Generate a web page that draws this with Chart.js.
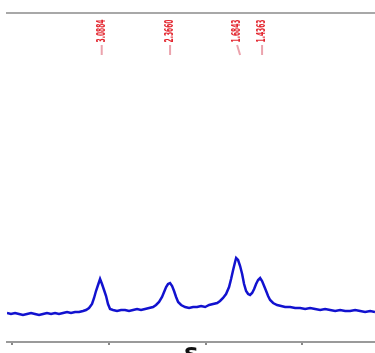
<!DOCTYPE html>
<html>
<head>
<meta charset="utf-8">
<script src="https://cdn.jsdelivr.net/npm/chart.js@4"></script>
<style>
  html, body { margin: 0; padding: 0; background: #fff; }
  #wrap { width: 375px; height: 353px; overflow: hidden; position: relative; }
  canvas { display: block; }
</style>
</head>
<body>
<div id="wrap"><canvas id="spec" width="375" height="376"></canvas></div>
<script>
// chemical shift (ppm)
const shifts = [
  4.050, 4.009, 3.967, 3.926, 3.885, 3.843, 3.802, 3.761, 3.719, 3.678,
  3.637, 3.595, 3.554, 3.513, 3.471, 3.430, 3.389, 3.347, 3.306, 3.265,
  3.234, 3.203, 3.172, 3.151, 3.131, 3.110, 3.089, 3.069, 3.048, 3.027,
  3.007, 2.986, 2.955, 2.914, 2.872, 2.831, 2.790, 2.748, 2.707, 2.666,
  2.624, 2.583, 2.542, 2.511, 2.480, 2.449, 2.428, 2.407, 2.387, 2.366,
  2.345, 2.325, 2.304, 2.283, 2.252, 2.211, 2.170, 2.128, 2.087, 2.046,
  2.004, 1.963, 1.922, 1.880, 1.850, 1.819, 1.788, 1.757, 1.736, 1.715,
  1.695, 1.684, 1.664, 1.643, 1.622, 1.602, 1.581, 1.560, 1.540, 1.519,
  1.498, 1.478, 1.457, 1.436, 1.416, 1.395, 1.374, 1.354, 1.333, 1.302,
  1.261, 1.219, 1.178, 1.126, 1.075, 1.023, 0.971, 0.920, 0.868, 0.816,
  0.765, 0.713, 0.661, 0.610, 0.558, 0.507, 0.455, 0.403, 0.352, 0.300,
  0.250
];

// signal intensity (a.u.)
const intensity = [
  29, 28, 29, 28, 27, 28, 29, 28, 27, 28,
  29, 28, 29, 28, 29, 30, 29, 30, 30, 31,
  32, 34, 38, 44, 51, 57, 63, 58, 52, 46,
  38, 33, 32, 31, 32, 32, 31, 32, 33, 32,
  33, 34, 35, 37, 40, 45, 50, 55, 58, 59,
  56, 51, 45, 40, 37, 35, 34, 35, 35, 36,
  35, 37, 38, 39, 41, 44, 48, 55, 63, 72,
  80, 84, 82, 76, 68, 58, 51, 48, 47, 49,
  53, 58, 62, 64, 61, 56, 51, 46, 42, 39,
  37, 36, 35, 35, 34, 34, 33, 34, 33, 32,
  33, 32, 31, 32, 31, 31, 32, 31, 30, 31,
  30
];

// peak-pick labels
const peakLabels = ['3.0884', '2.3660', '1.6843', '1.4363'];
const labelAt = [3.072, 2.366, 1.674, 1.416];
const peakAt = [3.072, 2.366, 1.643, 1.416];

const axisTicks = [4, 3, 2, 1];

const peakMarks = {
  id: 'peakMarks',
  afterDatasetsDraw(chart) {
    const ctx = chart.ctx;
    const xs = chart.scales.x;
    ctx.save();
    peakLabels.forEach((txt, i) => {
      const lx = xs.getPixelForValue(labelAt[i]);
      const px = xs.getPixelForValue(peakAt[i]);
      // connector tick
      ctx.strokeStyle = '#eba3ad';
      ctx.lineWidth = 2;
      ctx.beginPath();
      ctx.moveTo(lx, 45);
      ctx.lineTo(px, 55);
      ctx.stroke();
      // rotated value, squeezed to the short label length
      ctx.save();
      ctx.translate(lx, 31);
      ctx.rotate(-Math.PI / 2);
      ctx.fillStyle = '#e3262f';
      ctx.font = 'bold 12px "DejaVu Sans", sans-serif';
      ctx.textAlign = 'center';
      ctx.textBaseline = 'middle';
      ctx.fillText(txt, 0, 0, 23);
      ctx.restore();
    });
    ctx.restore();
  }
};

new Chart(document.getElementById('spec'), {
  type: 'line',
  data: {
    datasets: [{
      data: shifts.map((x, i) => ({ x, y: intensity[i] })),
      borderColor: '#1212cf',
      borderWidth: 2.5,
      pointRadius: 0,
      tension: 0,
      fill: false
    }]
  },
  options: {
    responsive: false,
    animation: false,
    layout: { padding: { left: 7, top: 13, right: 0, bottom: 0 } },
    plugins: { legend: { display: false }, tooltip: { enabled: false } },
    scales: {
      x: {
        type: 'linear',
        reverse: true,
        min: 0.25,
        max: 4.05,
        afterBuildTicks: s => { s.ticks = axisTicks.map(v => ({ value: v })); },
        afterFit: s => { s.height = 34; },
        ticks: { display: false },
        grid: { drawOnChartArea: false, drawTicks: true, tickLength: 3, color: '#888', lineWidth: 2 },
        border: { color: '#9a9a9a', width: 2 },
        title: {
          display: true,
          text: 'δ',
          color: '#111',
          font: { family: '"DejaVu Sans", sans-serif', size: 24, weight: 'bold' },
          padding: { top: 0, bottom: 2 }
        }
      },
      x2: {
        type: 'linear',
        position: 'top',
        min: 0,
        max: 1,
        afterFit: s => { s.height = 0; },
        ticks: { display: false },
        grid: { display: false },
        border: { color: '#a8a8a8', width: 2 }
      },
      y: {
        display: false,
        min: 0,
        max: 329
      }
    }
  },
  plugins: [peakMarks]
});
</script>
</body>
</html>
